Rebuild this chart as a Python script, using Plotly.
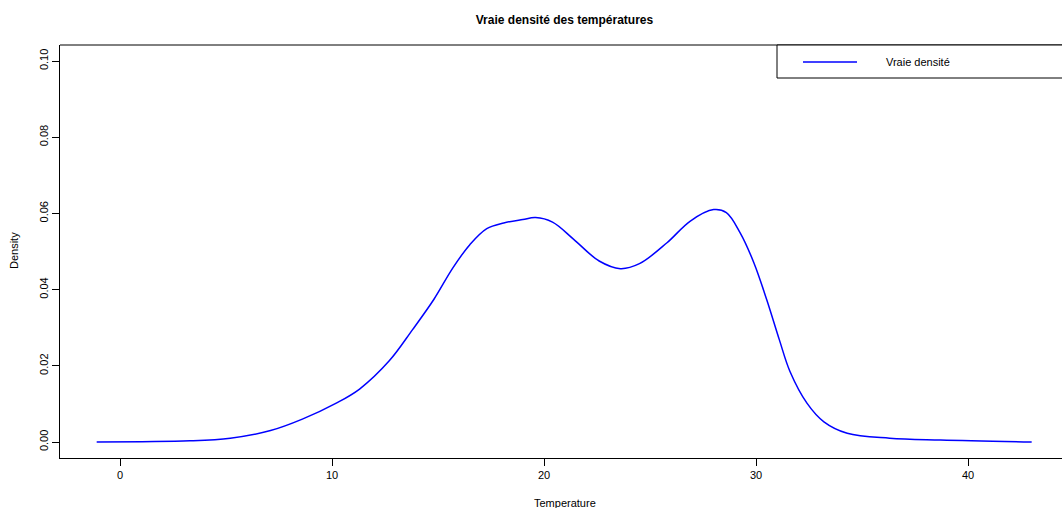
import plotly.graph_objects as go

temperature = [-1.1, 3.3, 5.2, 7.1, 8.6, 10.2, 11.3, 12.7, 13.8, 14.8, 15.7, 16.5, 17.3, 18.1,
               19.0, 19.6, 20.4, 21.4, 22.6, 23.6, 24.5, 25.8, 26.9, 28.0, 28.6, 29.25, 29.9,
               30.5, 31.1, 31.6, 32.4, 33.2, 34.3, 36.3, 38.7, 43.0]
density = [0.0, 0.0003, 0.001, 0.003, 0.006, 0.0102, 0.0139, 0.0213, 0.0295, 0.0374, 0.0457,
           0.0518, 0.056, 0.0575, 0.0584, 0.0589, 0.0577, 0.0532, 0.0475, 0.0455, 0.0468, 0.0523,
           0.058, 0.061, 0.0602, 0.0549, 0.047, 0.0374, 0.0268, 0.0185, 0.0102, 0.0053, 0.0023,
           0.001, 0.0005, 0.0]

x_ticks = [0, 10, 20, 30, 40]
y_ticks = [0.00, 0.02, 0.04, 0.06, 0.08, 0.10]
y_tick_text = ["0.00", "0.02", "0.04", "0.06", "0.08", "0.10"]

font = "Liberation Sans, Arial, sans-serif"

fig = go.Figure()
fig.add_trace(go.Scatter(x=temperature, y=density, mode="lines", name="Vraie densité",
                         line=dict(color="#0000FF", width=1.5, shape="spline", smoothing=1.0),
                         showlegend=False, hoverinfo="skip"))

fig.update_layout(
    width=1062, height=508,
    margin=dict(l=60, r=0, t=45, b=50),
    paper_bgcolor="white", plot_bgcolor="white",
    font=dict(family=font, size=11, color="black"),
    title=dict(text="<b>Vraie densité des températures</b>", x=564.5 / 1062, y=1 - 20 / 508,
               xanchor="center", yanchor="middle", font=dict(size=12, family=font, color="black")),
    xaxis=dict(range=[-2.83, 44.43], tickvals=x_ticks, ticks="outside", ticklen=7,
               tickcolor="black", showline=True, linecolor="black", linewidth=1,
               showgrid=False, zeroline=False, tickfont=dict(size=11)),
    yaxis=dict(range=[-0.0042, 0.1042], tickvals=y_ticks, ticktext=y_tick_text,
               ticks="outside", ticklen=7, tickcolor="black", tickangle=-90,
               showline=True, linecolor="black", linewidth=1,
               showgrid=False, zeroline=False, tickfont=dict(size=11)),
    shapes=[
        dict(type="line", xref="paper", yref="paper", x0=0, x1=1.01, y0=1, y1=1,
             line=dict(color="black", width=1)),
        dict(type="rect", xref="paper", yref="paper", x0=(777 - 60) / 1002, x1=1.01,
             y0=(458 - 78) / 413, y1=1, line=dict(color="black", width=1), fillcolor="white"),
        dict(type="line", xref="paper", yref="paper", x0=(803 - 60) / 1002, x1=(857 - 60) / 1002,
             y0=(458 - 62) / 413, y1=(458 - 62) / 413, line=dict(color="#0000FF", width=1.5)),
    ],
    annotations=[
        dict(text="Vraie densité", xref="paper", yref="paper", x=(884 - 60) / 1002,
             y=(458 - 62) / 413, xanchor="left", yanchor="middle", showarrow=False,
             font=dict(size=11, color="black")),
        dict(text="Temperature", xref="paper", yref="paper", x=(564.5 - 60) / 1002,
             y=(458 - 503) / 413, xanchor="center", yanchor="middle", showarrow=False,
             font=dict(size=11, color="black")),
        dict(text="Density", xref="paper", yref="paper", x=(14 - 60) / 1002,
             y=(458 - 251) / 413, xanchor="center", yanchor="middle",
             showarrow=False, textangle=-90, font=dict(size=11, color="black")),
    ],
)

fig.write_html("out.html", config={"displayModeBar": False},
               post_script="document.body.style.margin='0';document.body.style.overflow='hidden';")
